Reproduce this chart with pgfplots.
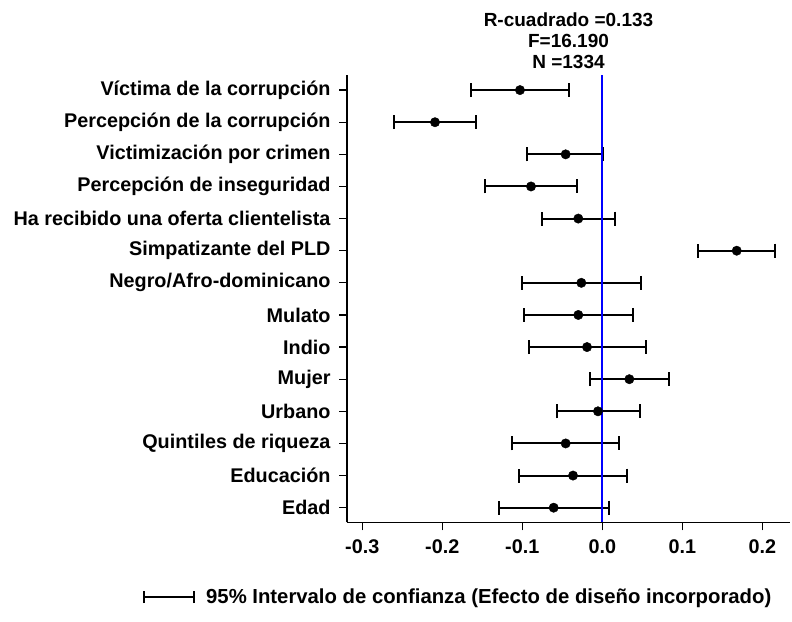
\documentclass[border=0pt]{standalone}
\usepackage{pgfplots}
\pgfplotsset{compat=1.18}
\usepackage{pgfplotstable}
\usepackage{fontspec}
\setmainfont{Liberation Sans}
\pgfplotstableread{
y est ep em
14 -0.1029 0.0609 0.0617
13 -0.2091 0.0508 0.0517
12 -0.0458 0.0471 0.0479
11 -0.0891 0.0579 0.0571
10 -0.0300 0.0459 0.0454
9 0.1680 0.0483 0.0484
8 -0.0262 0.0746 0.0738
7 -0.0300 0.0680 0.0675
6 -0.0191 0.0737 0.0729
5 0.0338 0.0500 0.0496
4 -0.0054 0.0521 0.0512
3 -0.0458 0.0671 0.0667
2 -0.0366 0.0679 0.0671
1 -0.0608 0.0696 0.0683
}\coef
\begin{document}
\begin{tikzpicture}
\path[use as bounding box] (0,0) rectangle (792bp,622bp);
\begin{axis}[
  at={(347bp,99.7bp)}, anchor=south west,
  scale only axis, width=443bp, height=447.3bp,
  xmin=-0.3191, xmax=0.2346, ymin=0.545, ymax=14.47,
  axis x line*=bottom, axis y line*=left,
  axis line style={line width=1.2bp, black},
  tick align=outside, major tick length=8bp,
  tick style={line width=1.2bp, black},
  xtick={-0.3,-0.2,-0.1,0,0.1,0.2},
  xticklabels={-0.3,-0.2,-0.1,0.0,0.1,0.2},
  ytick={1,...,14},
  yticklabels={Edad,Educación,Quintiles de riqueza,Urbano,Mujer,Indio,Mulato,Negro/Afro-dominicano,Simpatizante del PLD,Ha recibido una oferta clientelista,Percepción de inseguridad,Victimización por crimen,Percepción de la corrupción,Víctima de la corrupción},
  ticklabel style={font=\bfseries\fontsize{19.8bp}{22bp}\selectfont},
  yticklabel style={xshift=-5bp},
  xticklabel style={yshift=-6bp},
  /pgf/number format/assume math mode=true,
  title={R-cuadrado =0.133\\F=16.190\\N =1334},
  title style={align=center, font=\bfseries\fontsize{19bp}{20.9bp}\selectfont, at={(0.5,1)}, anchor=south, inner sep=0pt, yshift=0bp},
  legend style={draw=none, at={(-0.4605,-0.167)}, anchor=west, inner sep=0pt,
    font=\bfseries\fontsize{20.3bp}{22bp}\selectfont,
    /tikz/every odd column/.append style={column sep=9bp}},
  legend image code/.code={
    \draw[line width=2bp, black] (0bp,0bp)--(50bp,0bp);
    \draw[line width=2bp, black] (0bp,-6bp)--(0bp,6bp);
    \draw[line width=2bp, black] (50bp,-6bp)--(50bp,6bp);
  },
  legend cell align=left,
  clip=false,
]
\addplot[only marks, mark=*, mark size=4.7bp, black,
  error bars/.cd, x dir=both, x explicit,
  error bar style={line width=2bp, black},
  error mark options={line width=2bp, black, mark size=7bp, rotate=90}]
  table[x=est, y=y, x error plus=ep, x error minus=em] {\coef};
\addlegendentry{95\% Intervalo de confianza (Efecto de diseño incorporado)}
\addplot[blue, line width=2bp, forget plot] coordinates {(0,0.545) (0,14.47)};
\end{axis}
\end{tikzpicture}
\end{document}
